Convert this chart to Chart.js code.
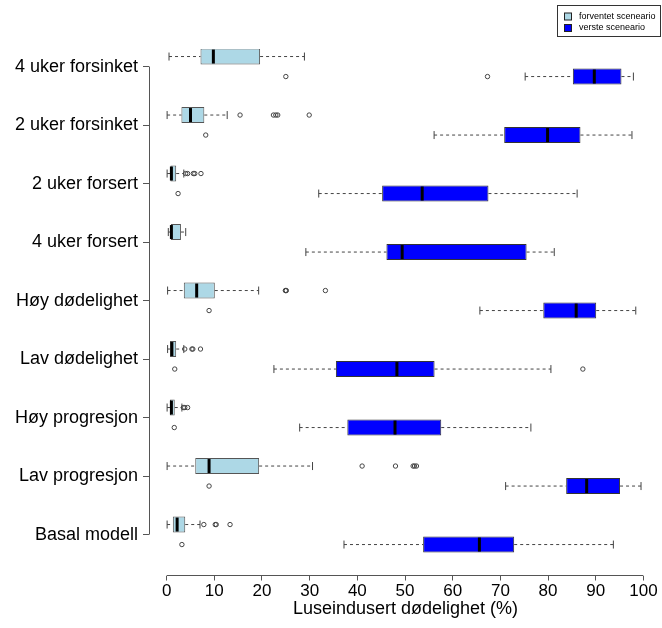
<!DOCTYPE html>
<html>
<head>
<meta charset="utf-8">
<script src="https://cdn.jsdelivr.net/npm/chart.js@4.4.1/dist/chart.umd.min.js"></script>
<style>
  html, body { margin: 0; padding: 0; background: #fff; }
  #wrap { width: 662px; height: 628px; }
</style>
</head>
<body>
<div id="wrap"><canvas id="chart" width="662" height="628"></canvas></div>
<script>
// Scenarios (top to bottom)
const categories = ["4 uker forsinket", "2 uker forsinket", "2 uker forsert", "4 uker forsert",
  "Høy dødelighet", "Lav dødelighet", "Høy progresjon", "Lav progresjon", "Basal modell"];
const xTicks = [0, 10, 20, 30, 40, 50, 60, 70, 80, 90, 100];

// forventet sceneario
const expMin = [0.5, 0.1, 0.1, 0.35, 0.2, 0.2, 0.1, 0.1, 0.1];
const expQ1 = [7.1, 3.1, 0.8, 0.9, 3.6, 0.7, 0.7, 6.0, 1.3];
const expMedian = [9.8, 5.0, 1.0, 1.0, 6.3, 1.1, 1.0, 8.9, 2.2];
const expQ3 = [19.6, 7.9, 2.0, 3.0, 10.1, 2.0, 1.7, 19.4, 3.9];
const expMax = [28.9, 12.7, 3.6, 4.0, 19.3, 3.6, 3.2, 30.6, 7.0];
const expOutliers = [[], [15.4, 22.4, 22.9, 23.3, 29.9], [4.0, 4.4, 5.6, 5.9, 7.2], [],
  [24.9, 25.0, 25.1, 33.3], [3.8, 5.3, 5.5, 7.1], [3.5, 3.8, 4.4],
  [41.0, 48.0, 51.7, 52.0, 52.4], [7.8, 10.2, 10.4, 13.3]];

// verste sceneario
const worstMin = [75.2, 56.1, 31.9, 29.2, 65.7, 22.5, 27.9, 71.1, 37.2];
const worstQ1 = [85.2, 70.8, 45.2, 46.1, 79.0, 35.5, 37.9, 83.8, 53.8];
const worstMedian = [89.7, 79.9, 53.6, 49.4, 85.9, 48.3, 47.9, 88.1, 65.6];
const worstQ3 = [95.4, 86.8, 67.5, 75.5, 90.1, 56.2, 57.6, 95.1, 72.9];
const worstMax = [97.9, 97.6, 86.1, 81.3, 98.4, 80.6, 76.4, 99.5, 93.7];
const worstOutliers = [[25.0, 67.3], [8.2], [2.4], [], [8.9], [1.7, 87.3], [1.6], [8.9], [3.2]];

const FONT = "'Liberation Sans', Arial, sans-serif";

/**
 * Whiskers, staples, medians and outliers drawn on top of the floating bars.
 */
const boxExtras = {
  id: "boxExtras",
  afterDatasetsDraw(chart) {
    const ctx = chart.ctx;
    const xs = chart.scales.x;
    ctx.save();
    chart.data.datasets.forEach((ds, d) => {
      const s = ds.stats;
      chart.getDatasetMeta(d).data.forEach((bar, i) => {
        const y = bar.y;
        const h = bar.height;
        const pMin = xs.getPixelForValue(s.min[i]);
        const pQ1 = xs.getPixelForValue(s.q1[i]);
        const pQ3 = xs.getPixelForValue(s.q3[i]);
        const pMax = xs.getPixelForValue(s.max[i]);
        const pMed = xs.getPixelForValue(s.median[i]);

        // dashed whiskers
        ctx.strokeStyle = "#444";
        ctx.lineWidth = 1;
        ctx.setLineDash([3, 3]);
        ctx.beginPath();
        ctx.moveTo(pMin, y); ctx.lineTo(pQ1, y);
        ctx.moveTo(pQ3, y); ctx.lineTo(pMax, y);
        ctx.stroke();

        // staples
        ctx.setLineDash([]);
        ctx.beginPath();
        ctx.moveTo(pMin, y - h / 4); ctx.lineTo(pMin, y + h / 4);
        ctx.moveTo(pMax, y - h / 4); ctx.lineTo(pMax, y + h / 4);
        ctx.stroke();

        // median
        ctx.strokeStyle = "#000";
        ctx.lineWidth = 3;
        ctx.beginPath();
        ctx.moveTo(pMed, y - h / 2 + 1); ctx.lineTo(pMed, y + h / 2 - 1);
        ctx.stroke();

        // outliers
        ctx.strokeStyle = "#444";
        ctx.lineWidth = 1;
        s.out[i].forEach((v) => {
          ctx.beginPath();
          ctx.arc(xs.getPixelForValue(v), y, 2.2, 0, Math.PI * 2);
          ctx.stroke();
        });
      });
    });
    ctx.restore();
  },
  afterDraw(chart) {
    const ctx = chart.ctx;
    const xs = chart.scales.x;
    const ys = chart.scales.y;
    const area = chart.chartArea;
    ctx.save();
    ctx.strokeStyle = "#555";
    ctx.lineWidth = 1;
    ctx.setLineDash([]);
    // R style axis lines, only between first and last tick
    ctx.beginPath();
    ctx.moveTo(area.left + 0.5, ys.getPixelForValue(1));
    ctx.lineTo(area.left + 0.5, ys.getPixelForValue(categories.length));
    ctx.moveTo(xs.getPixelForValue(xTicks[0]), area.bottom);
    ctx.lineTo(xs.getPixelForValue(xTicks[xTicks.length - 1]), area.bottom);
    ctx.stroke();

    // legend box
    ctx.strokeStyle = "#333";
    ctx.strokeRect(557.5, 5.5, 103, 31);
    ctx.font = "9px " + FONT;
    ctx.textBaseline = "middle";
    ctx.textAlign = "left";
    chart.data.datasets.forEach((ds, d) => {
      const cy = 16.5 + d * 11.5;
      ctx.fillStyle = ds.backgroundColor;
      ctx.fillRect(564.5, cy - 3.5, 7, 7);
      ctx.strokeStyle = "#222";
      ctx.strokeRect(564.5, cy - 3.5, 7, 7);
      ctx.fillStyle = "#000";
      ctx.fillText(ds.label, 579, cy);
    });
    ctx.restore();
  },
};

function makeData(q1, q3) {
  return categories.map((c, i) => ({ x: [q1[i], q3[i]], y: i + 1 }));
}

const ctx = document.getElementById("chart").getContext("2d");
new Chart(ctx, {
  type: "bar",
  data: {
    datasets: [
      {
        label: "forventet sceneario",
        data: makeData(expQ1, expQ3),
        backgroundColor: "#ADD8E6",
        borderColor: "#555",
        borderWidth: 1,
        borderSkipped: false,
        stats: { min: expMin, q1: expQ1, median: expMedian, q3: expQ3, max: expMax, out: expOutliers },
      },
      {
        label: "verste sceneario",
        data: makeData(worstQ1, worstQ3),
        backgroundColor: "#0000FF",
        borderColor: "#333",
        borderWidth: 1,
        borderSkipped: false,
        stats: { min: worstMin, q1: worstQ1, median: worstMedian, q3: worstQ3, max: worstMax, out: worstOutliers },
      },
    ],
  },
  options: {
    indexAxis: "y",
    responsive: false,
    animation: false,
    categoryPercentage: 0.684,
    barPercentage: 0.8,
    layout: { padding: { top: 49, right: 0, bottom: 0, left: 0 } },
    plugins: { legend: { display: false }, tooltip: { enabled: false } },
    scales: {
      x: {
        type: "linear",
        min: -3.7,
        max: 103.9,
        afterBuildTicks: (scale) => { scale.ticks = xTicks.map((v) => ({ value: v })); },
        afterFit: (scale) => { scale.height = 52.5; },
        border: { display: false },
        grid: { drawOnChartArea: false, drawTicks: true, tickLength: 5, color: "#555" },
        ticks: { color: "#000", padding: 1, maxRotation: 0, font: { family: FONT, size: 17 } },
        title: {
          display: true,
          text: "Luseindusert dødelighet (%)",
          color: "#000",
          font: { family: FONT, size: 18 },
          padding: { top: 8, bottom: 8 },
        },
      },
      y: {
        type: "linear",
        reverse: true,
        offset: false,
        min: 0.7,
        max: 9.7,
        afterBuildTicks: (scale) => { scale.ticks = categories.map((c, i) => ({ value: i + 1 })); },
        afterFit: (scale) => { scale.width = 149; },
        border: { display: false },
        grid: { offset: false, drawOnChartArea: false, drawTicks: true, tickLength: 6, color: "#555" },
        ticks: {
          color: "#000",
          padding: 5,
          font: { family: FONT, size: 18 },
          callback: (v) => categories[v - 1],
        },
      },
    },
  },
  plugins: [boxExtras],
});
</script>
</body>
</html>
